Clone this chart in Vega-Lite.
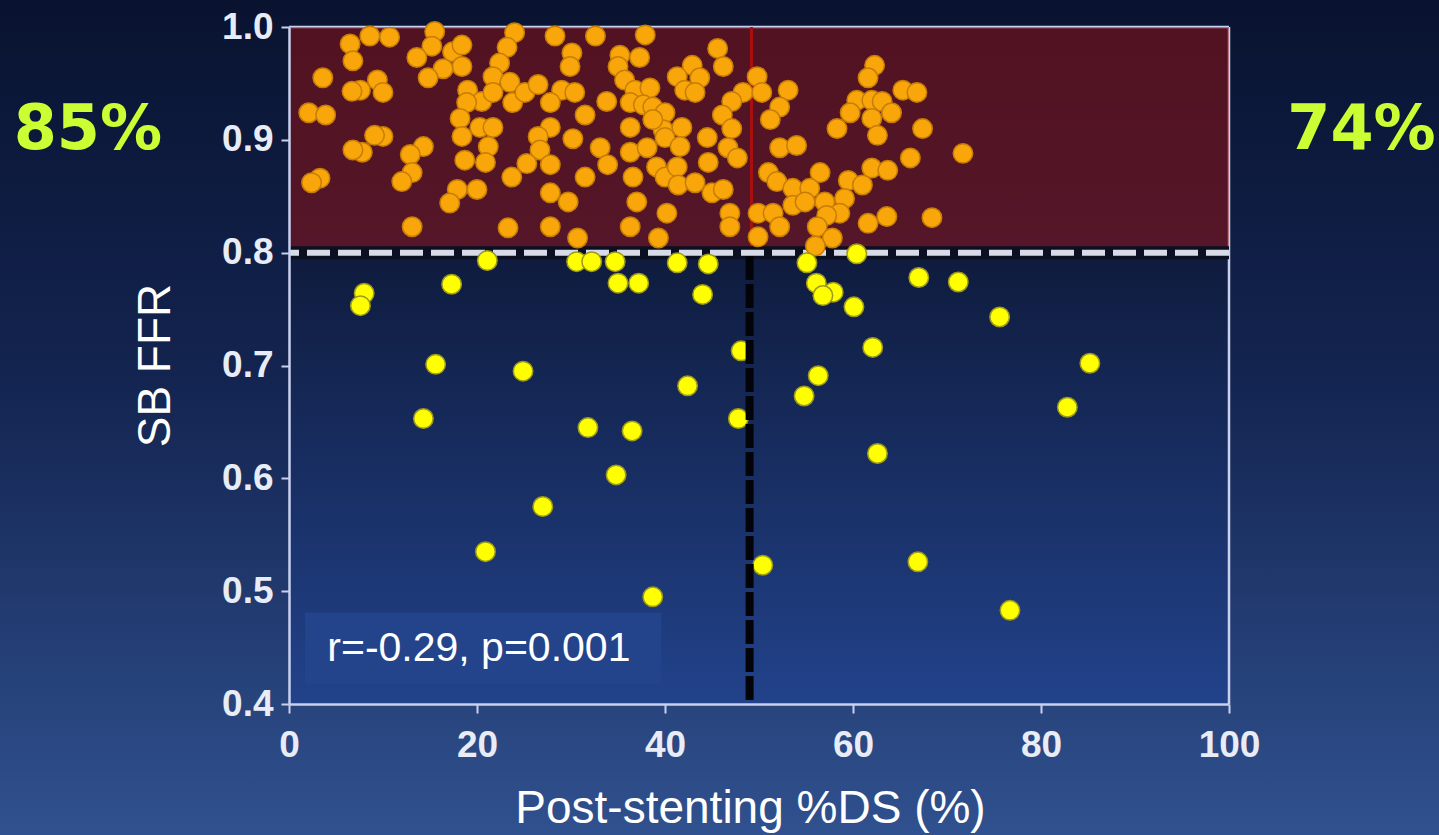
{
  "$schema": "https://vega.github.io/schema/vega-lite/v6.json",
  "width": 940,
  "height": 677,
  "autosize": {"type": "none"},
  "padding": {"left": 289, "top": 27, "right": 210, "bottom": 131},
  "background": "#16264f",
  "config": {"view": {"stroke": null}},
  "data": {"values": [{"note": "decor"}]},
  "datasets": {
    "pts": [
      {"ds":6.5,"ffr":0.985},{"ds":8.6,"ffr":0.992},{"ds":10.7,"ffr":0.991},{"ds":6.8,"ffr":0.970},{"ds":3.6,"ffr":0.955},{"ds":15.5,"ffr":0.996},{"ds":15.2,"ffr":0.983},{"ds":13.6,"ffr":0.973},{"ds":17.4,"ffr":0.978},{"ds":18.4,"ffr":0.984},{"ds":18.4,"ffr":0.965},{"ds":16.4,"ffr":0.963},{"ds":14.8,"ffr":0.955},{"ds":24.0,"ffr":0.995},{"ds":23.2,"ffr":0.982},{"ds":22.4,"ffr":0.968},{"ds":21.7,"ffr":0.956},{"ds":23.5,"ffr":0.951},{"ds":19.0,"ffr":0.944},{"ds":20.5,"ffr":0.934},{"ds":21.7,"ffr":0.942},{"ds":23.8,"ffr":0.933},{"ds":18.9,"ffr":0.933},{"ds":7.6,"ffr":0.944},{"ds":9.4,"ffr":0.953},{"ds":10.0,"ffr":0.942},{"ds":6.7,"ffr":0.943},{"ds":2.1,"ffr":0.924},{"ds":3.9,"ffr":0.922},{"ds":18.2,"ffr":0.919},{"ds":18.4,"ffr":0.903},{"ds":20.3,"ffr":0.911},{"ds":21.7,"ffr":0.911},{"ds":21.2,"ffr":0.894},{"ds":10.0,"ffr":0.903},{"ds":9.1,"ffr":0.904},{"ds":7.8,"ffr":0.889},{"ds":6.8,"ffr":0.891},{"ds":14.3,"ffr":0.894},{"ds":12.9,"ffr":0.887},{"ds":13.1,"ffr":0.871},{"ds":12.0,"ffr":0.863},{"ds":18.7,"ffr":0.882},{"ds":20.9,"ffr":0.880},{"ds":23.7,"ffr":0.867},{"ds":3.3,"ffr":0.866},{"ds":2.4,"ffr":0.862},{"ds":17.9,"ffr":0.856},{"ds":20.0,"ffr":0.856},{"ds":17.1,"ffr":0.844},{"ds":13.1,"ffr":0.823},{"ds":23.3,"ffr":0.822},
      {"ds":28.3,"ffr":0.992},{"ds":32.6,"ffr":0.992},{"ds":37.9,"ffr":0.993},{"ds":45.6,"ffr":0.981},{"ds":46.2,"ffr":0.965},{"ds":30.1,"ffr":0.977},{"ds":29.9,"ffr":0.965},{"ds":35.2,"ffr":0.975},{"ds":37.3,"ffr":0.973},{"ds":35.0,"ffr":0.965},{"ds":35.7,"ffr":0.953},{"ds":36.8,"ffr":0.944},{"ds":38.4,"ffr":0.946},{"ds":42.9,"ffr":0.966},{"ds":41.3,"ffr":0.956},{"ds":43.7,"ffr":0.955},{"ds":42.1,"ffr":0.944},{"ds":43.2,"ffr":0.942},{"ds":25.1,"ffr":0.942},{"ds":26.5,"ffr":0.949},{"ds":29.0,"ffr":0.944},{"ds":30.4,"ffr":0.942},{"ds":27.8,"ffr":0.933},{"ds":33.8,"ffr":0.934},{"ds":36.3,"ffr":0.933},{"ds":37.7,"ffr":0.931},{"ds":38.7,"ffr":0.929},{"ds":40.0,"ffr":0.924},{"ds":48.3,"ffr":0.942},{"ds":47.1,"ffr":0.934},{"ds":46.1,"ffr":0.922},{"ds":47.1,"ffr":0.910},{"ds":31.5,"ffr":0.922},{"ds":27.8,"ffr":0.911},{"ds":26.5,"ffr":0.903},{"ds":30.2,"ffr":0.901},{"ds":36.3,"ffr":0.911},{"ds":39.8,"ffr":0.909},{"ds":41.8,"ffr":0.911},{"ds":38.7,"ffr":0.918},{"ds":40.0,"ffr":0.902},{"ds":41.6,"ffr":0.894},{"ds":44.5,"ffr":0.902},{"ds":46.7,"ffr":0.893},{"ds":47.7,"ffr":0.884},{"ds":44.6,"ffr":0.880},{"ds":26.7,"ffr":0.891},{"ds":25.3,"ffr":0.879},{"ds":27.8,"ffr":0.878},{"ds":33.1,"ffr":0.893},{"ds":33.9,"ffr":0.878},{"ds":36.3,"ffr":0.889},{"ds":38.1,"ffr":0.893},{"ds":36.6,"ffr":0.867},{"ds":31.5,"ffr":0.867},{"ds":39.1,"ffr":0.876},{"ds":40.0,"ffr":0.867},{"ds":41.3,"ffr":0.876},{"ds":41.4,"ffr":0.860},{"ds":43.2,"ffr":0.862},{"ds":45.0,"ffr":0.853},{"ds":46.2,"ffr":0.856},{"ds":27.8,"ffr":0.853},{"ds":29.7,"ffr":0.845},{"ds":37.0,"ffr":0.845},{"ds":40.2,"ffr":0.835},{"ds":46.9,"ffr":0.835},{"ds":46.9,"ffr":0.823},{"ds":27.8,"ffr":0.823},{"ds":30.7,"ffr":0.813},{"ds":36.3,"ffr":0.823},{"ds":39.3,"ffr":0.813},
      {"ds":49.8,"ffr":0.956},{"ds":50.3,"ffr":0.942},{"ds":53.1,"ffr":0.944},{"ds":52.2,"ffr":0.929},{"ds":51.2,"ffr":0.918},{"ds":62.3,"ffr":0.966},{"ds":61.6,"ffr":0.955},{"ds":65.3,"ffr":0.944},{"ds":66.8,"ffr":0.942},{"ds":60.4,"ffr":0.935},{"ds":62.0,"ffr":0.935},{"ds":63.1,"ffr":0.934},{"ds":64.1,"ffr":0.924},{"ds":59.7,"ffr":0.924},{"ds":62.0,"ffr":0.919},{"ds":58.3,"ffr":0.910},{"ds":62.6,"ffr":0.904},{"ds":67.4,"ffr":0.910},{"ds":52.2,"ffr":0.893},{"ds":54.0,"ffr":0.895},{"ds":71.7,"ffr":0.888},{"ds":66.1,"ffr":0.884},{"ds":62.0,"ffr":0.875},{"ds":63.7,"ffr":0.873},{"ds":59.5,"ffr":0.864},{"ds":61.0,"ffr":0.860},{"ds":51.0,"ffr":0.871},{"ds":51.9,"ffr":0.863},{"ds":53.6,"ffr":0.857},{"ds":56.5,"ffr":0.871},{"ds":55.4,"ffr":0.857},{"ds":53.6,"ffr":0.842},{"ds":54.9,"ffr":0.845},{"ds":57.0,"ffr":0.845},{"ds":59.1,"ffr":0.848},{"ds":58.6,"ffr":0.835},{"ds":57.2,"ffr":0.833},{"ds":63.6,"ffr":0.832},{"ds":61.6,"ffr":0.826},{"ds":68.4,"ffr":0.831},{"ds":49.9,"ffr":0.835},{"ds":51.5,"ffr":0.835},{"ds":52.2,"ffr":0.823},{"ds":56.2,"ffr":0.823},{"ds":57.8,"ffr":0.813},{"ds":49.9,"ffr":0.814},{"ds":56.0,"ffr":0.806},
      {"ds":21.1,"ffr":0.793},{"ds":17.3,"ffr":0.772},{"ds":8.0,"ffr":0.764},{"ds":7.6,"ffr":0.753},{"ds":30.6,"ffr":0.792},{"ds":32.2,"ffr":0.792},{"ds":34.7,"ffr":0.792},{"ds":35.0,"ffr":0.773},{"ds":37.2,"ffr":0.773},{"ds":41.3,"ffr":0.791},{"ds":44.6,"ffr":0.790},{"ds":44.0,"ffr":0.763},{"ds":48.1,"ffr":0.713},{"ds":15.6,"ffr":0.701},{"ds":24.9,"ffr":0.695},{"ds":42.4,"ffr":0.682},{"ds":14.3,"ffr":0.653},{"ds":31.8,"ffr":0.645},{"ds":36.5,"ffr":0.642},{"ds":47.8,"ffr":0.653},{"ds":34.8,"ffr":0.603},{"ds":27.0,"ffr":0.575},{"ds":20.9,"ffr":0.535},{"ds":38.7,"ffr":0.495},{"ds":50.4,"ffr":0.523},{"ds":60.4,"ffr":0.799},{"ds":55.1,"ffr":0.791},{"ds":56.1,"ffr":0.773},{"ds":57.9,"ffr":0.765},{"ds":56.8,"ffr":0.762},{"ds":60.1,"ffr":0.752},{"ds":67.0,"ffr":0.778},{"ds":71.2,"ffr":0.774},{"ds":75.6,"ffr":0.743},{"ds":62.1,"ffr":0.716},{"ds":85.2,"ffr":0.702},{"ds":56.3,"ffr":0.691},{"ds":54.8,"ffr":0.673},{"ds":82.8,"ffr":0.663},{"ds":62.6,"ffr":0.622},{"ds":66.9,"ffr":0.526},{"ds":76.7,"ffr":0.483}
    ]
  },
  "encoding": {
    "x": {"type": "quantitative", "scale": {"domain": [0, 100], "nice": false, "zero": false},
      "axis": {"values": [0,20,40,60,80,100], "title": "Post-stenting %DS (%)", "grid": false, "zindex": 1, "labelFlush": false,
        "domainColor": "#c9d1ee", "domainWidth": 2.5, "tickColor": "#c9d1ee", "tickWidth": 2, "tickSize": 9,
        "labelFont": "Liberation Sans", "labelFontWeight": "bold", "labelFontSize": 37, "labelColor": "#e8ecf6", "labelPadding": 14,
        "titleFont": "Liberation Sans", "titleFontWeight": "normal", "titleFontSize": 46, "titleColor": "#ffffff",
        "titleX": 461, "titleY": 104, "titleBaseline": "middle", "titleAlign": "center"}},
    "y": {"type": "quantitative", "scale": {"domain": [0.4, 1.0], "nice": false, "zero": false},
      "axis": {"values": [0.4,0.5,0.6,0.7,0.8,0.9,1.0], "format": ".1f", "title": "SB FFR", "grid": false, "zindex": 1, "labelFlush": false,
        "domainColor": "#c9d1ee", "domainWidth": 2.5, "tickColor": "#c9d1ee", "tickWidth": 2, "tickSize": 8,
        "labelFont": "Liberation Sans", "labelFontWeight": "bold", "labelFontSize": 37, "labelColor": "#e8ecf6", "labelPadding": 8,
        "titleFont": "Liberation Sans", "titleFontWeight": "normal", "titleFontSize": 46, "titleColor": "#ffffff",
        "titleX": -134, "titleY": 338, "titleBaseline": "middle", "titleAlign": "center", "titleAngle": -90}}
  },
  "layer": [
    {
      "mark": {"type": "rect", "clip": false, "color": {"gradient": "linear", "x1": 0, "y1": 0, "x2": 0, "y2": 1,
        "stops": [{"offset": 0, "color": "#091330"}, {"offset": 0.45, "color": "#132450"}, {"offset": 1, "color": "#30518f"}]}},
      "encoding": {"x": {"datum": -30.8}, "x2": {"datum": 122.4}, "y": {"datum": 1.024}, "y2": {"datum": 0.283}}
    },
    {
      "mark": {"type": "rect", "color": {"gradient": "linear", "x1": 0, "y1": 0, "x2": 0, "y2": 1,
        "stops": [{"offset": 0, "color": "#0a1330"}, {"offset": 0.35, "color": "#0f1c3f"}, {"offset": 1, "color": "#22428a"}]}},
      "encoding": {"x": {"datum": 0}, "x2": {"datum": 100}, "y": {"datum": 1.0}, "y2": {"datum": 0.4}}
    },
    {
      "mark": {"type": "rule", "color": "#c9d1ee", "strokeWidth": 2.5},
      "encoding": {"y": {"datum": 1.0}}
    },
    {
      "mark": {"type": "rule", "color": "#c9d1ee", "strokeWidth": 2.5},
      "encoding": {"x": {"datum": 100}}
    },
    {
      "mark": {"type": "rect", "color": "#a31212", "opacity": 0.47},
      "encoding": {"x": {"datum": 0}, "x2": {"datum": 100}, "y": {"datum": 1.0}, "y2": {"datum": 0.805}}
    },
    {
      "mark": {"type": "rule", "color": "#a81010", "strokeWidth": 3},
      "encoding": {"x": {"datum": 49.2}, "y": {"datum": 1.0}, "y2": {"datum": 0.805}}
    },
    {
      "mark": {"type": "rule", "color": "#0a0f22", "strokeWidth": 13},
      "encoding": {"y": {"datum": 0.8}}
    },
    {
      "mark": {"type": "rule", "color": "#d6dbe7", "strokeWidth": 6, "strokeDash": [23, 8]},
      "encoding": {"y": {"datum": 0.8}}
    },
    {
      "data": {"name": "pts"},
      "mark": {"type": "point", "filled": true, "shape": "circle", "size": 380, "strokeWidth": 1.5, "opacity": 1},
      "encoding": {
        "x": {"field": "ds", "type": "quantitative"},
        "y": {"field": "ffr", "type": "quantitative"},
        "fill": {"condition": {"test": "datum.ffr > 0.8", "value": "#f8a60a"}, "value": "#ffff00"},
        "stroke": {"condition": {"test": "datum.ffr > 0.8", "value": "#c77d05"}, "value": "#9c9a1a"}
      }
    },
    {
      "mark": {"type": "rule", "color": "#03040a", "strokeWidth": 8, "strokeDash": [24, 4]},
      "encoding": {"x": {"datum": 49}, "y": {"datum": 0.797}, "y2": {"datum": 0.4}}
    },
    {
      "mark": {"type": "rect", "color": "#23448b"},
      "encoding": {"x": {"datum": 1.7}, "x2": {"datum": 39.6}, "y": {"datum": 0.481}, "y2": {"datum": 0.418}}
    },
    {
      "mark": {"type": "text", "text": "r=-0.29, p=0.001", "font": "Liberation Sans", "fontSize": 41, "color": "#ffffff", "align": "center", "baseline": "middle"},
      "encoding": {"x": {"datum": 20.2}, "y": {"datum": 0.449}}
    },
    {
      "mark": {"type": "text", "text": "85%", "font": "DejaVu Sans", "fontWeight": "bold", "fontSize": 62, "color": "#ccff33", "align": "center", "baseline": "middle"},
      "encoding": {"x": {"datum": -21.4}, "y": {"datum": 0.909}}
    },
    {
      "mark": {"type": "text", "text": "74%", "font": "DejaVu Sans", "fontWeight": "bold", "fontSize": 62, "color": "#ccff33", "align": "center", "baseline": "middle"},
      "encoding": {"x": {"datum": 114.1}, "y": {"datum": 0.909}}
    }
  ]
}
